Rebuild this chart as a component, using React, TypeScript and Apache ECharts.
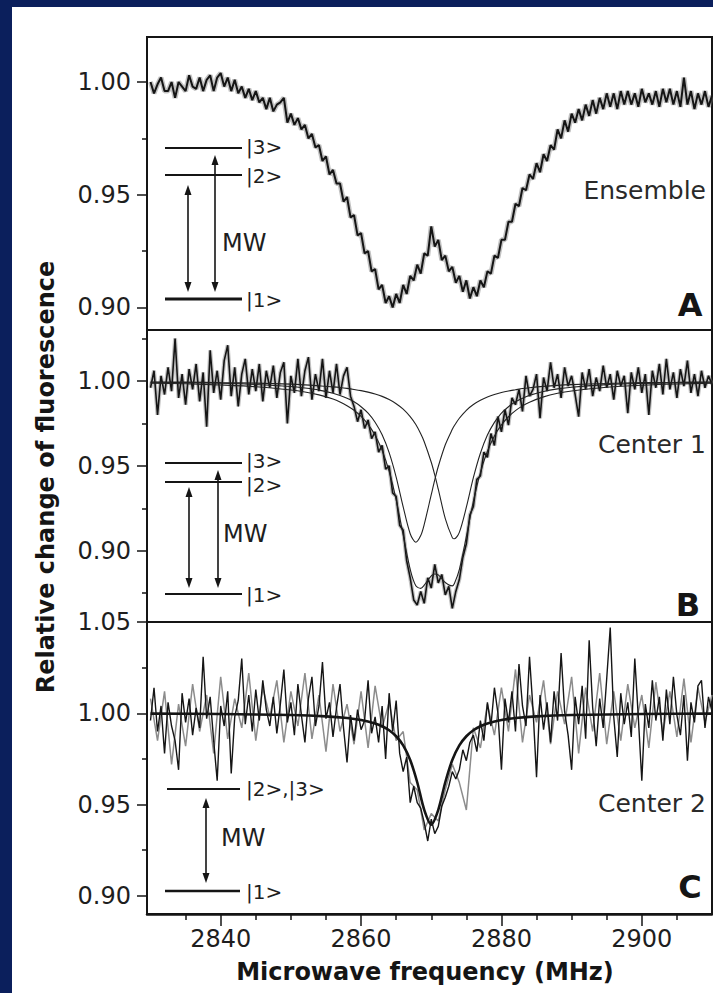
import React, { useEffect, useRef } from "react";
import * as echarts from "echarts";

// ---------------- data ----------------
const FREQ_START = 2830; // MHz, first sample
const FREQ_STEP = 0.5; // MHz between samples
const FREQ_MIN = 2829.5;
const FREQ_MAX = 2910;

// Panel A – ensemble spectrum (relative fluorescence)
const ensembleA = [
  1.000, .995, .999, 1.002, .996, .996, 1.000, .993, 1.000, .998,
  .996, 1.003, .998, .997, 1.002, .996, 1.001, 1.003, .996, 1.002,
  1.004, .998, 1.002, .996, 1.001, .995, .998, .993, .997, .992,
  .996, .991, .993, .988, .993, .987, .990, .991, .993, .982,
  .986, .981, .984, .979, .981, .975, .977, .971, .972, .965,
  .967, .959, .961, .955, .955, .947, .949, .940, .941, .932,
  .933, .924, .925, .916, .917, .908, .910, .902, .905, .900,
  .906, .902, .910, .906, .914, .912, .919, .915, .924, .923,
  .936, .927, .930, .921, .923, .916, .918, .911, .914, .907,
  .912, .904, .909, .905, .912, .909, .916, .915, .923, .922,
  .930, .930, .938, .938, .946, .945, .953, .952, .959, .957,
  .964, .960, .968, .965, .972, .970, .979, .975, .983, .978,
  .986, .982, .988, .983, .990, .985, .992, .986, .993, .988,
  .995, .989, .995, .988, .996, .990, .996, .990, .995, .989,
  .997, .991, .995, .990, .996, .989, .997, .991, .997, .990,
  .996, .989, 1.002, .990, .996, .988, .995, .990, .996, .989,
  .994,
];

// Panel B – single centre 1
const center1B = [
  .996, 1.006, .980, 1.003, .992, 1.008, .994, 1.025, .990, 1.004,
  .986, 1.007, .995, 1.010, .988, 1.005, .973, 1.018, .993, 1.006,
  .989, 1.012, 1.021, .991, 1.008, .985, 1.004, 1.013, .992, 1.007,
  .994, 1.010, .988, 1.006, .996, 1.009, .990, 1.005, 1.011, .975,
  1.003, .993, 1.013, .991, 1.006, 1.014, .989, 1.004, .994, 1.013,
  .990, 1.006, .993, 1.010, .992, 1.003, 1.008, .991, .985, .976,
  .983, .972, .977, .966, .970, .958, .962, .948, .950, .934,
  .932, .915, .912, .894, .884, .871, .868, .876, .869, .884,
  .878, .892, .881, .886, .874, .879, .866, .876, .883, .896,
  .904, .921, .926, .942, .944, .958, .955, .969, .962, .979,
  .970, .983, .974, .990, .986, .995, .982, 1.003, .991, .995,
  1.004, .978, 1.002, .994, 1.011, .996, 1.004, .990, 1.008, .997,
  1.003, .992, .979, 1.005, .995, 1.007, .991, 1.002, .994, 1.009,
  .996, 1.004, .989, 1.006, .997, 1.003, .981, 1.005, .995, 1.008,
  .993, 1.004, .980, 1.006, .996, 1.010, .992, 1.013, .995, 1.005,
  .990, 1.007, .997, 1.012, .993, 1.004, .991, 1.006, .996, 1.003,
  .998,
];

// Panel B – fitted lines
const fitFreqB = [
  2830, 2835, 2840, 2845, 2850, 2852, 2854, 2856, 2857, 2858,
  2859, 2860, 2861, 2862, 2863, 2864, 2865, 2866, 2867, 2867.8,
  2868.5, 2869, 2870, 2870.5, 2871, 2872, 2873, 2873.3, 2874, 2875,
  2876, 2877, 2878, 2879, 2880, 2881, 2882, 2883, 2884, 2886,
  2888, 2890, 2895, 2900, 2905, 2910,
];
const fitB1 = [
  .9992, .9990, .9986, .9979, .9967, .9958, .9946, .9927, .9914, .9898,
  .9877, .9848, .9810, .9757, .9683, .9578, .9434, .9258, .9100, .9050,
  .9089, .9155, .9330, .9417, .9496, .9624, .9715, .9737, .9780, .9827,
  .9861, .9886, .9905, .9920, .9932, .9941, .9948, .9955, .9960, .9968,
  .9974, .9978, .9985, .9990, .9992, .9994,
];
const fitB2 = [
  .9994, .9993, .9990, .9987, .9981, .9977, .9972, .9965, .9961, .9956,
  .9950, .9943, .9934, .9923, .9909, .9890, .9866, .9834, .9790, .9743,
  .9689, .9642, .9521, .9446, .9362, .9189, .9077, .9070, .9108, .9256,
  .9430, .9574, .9681, .9756, .9810, .9848, .9877, .9898, .9915, .9938,
  .9953, .9963, .9978, .9985, .9989, .9992,
];
const fitBSum = [
  .9987, .9983, .9976, .9966, .9947, .9935, .9918, .9893, .9876, .9854,
  .9827, .9791, .9744, .9680, .9591, .9468, .9300, .9092, .8890, .8793,
  .8778, .8797, .8852, .8863, .8858, .8813, .8793, .8807, .8888, .9083,
  .9290, .9460, .9586, .9676, .9741, .9789, .9825, .9853, .9875, .9906,
  .9927, .9941, .9963, .9975, .9982, .9986,
];

// Panel C – single centre 2 (black trace, 0.5 MHz steps)
const center2C = [
  .996, 1.014, .990, 1.004, .978, 1.006, .993, .985, .969, 1.011,
  .995, 1.008, .988, 1.003, .992, 1.031, .997, 1.009, .985, .963,
  1.004, .993, 1.012, .967, .998, 1.007, 1.030, .994, 1.010, .990,
  1.013, .996, 1.018, 1.002, .993, 1.009, .989, 1.005, 1.024, .995,
  1.006, .988, 1.016, .999, .984, 1.008, 1.020, .993, 1.004, 1.028,
  .997, 1.006, .987, 1.003, 1.016, .992, .973, .999, .985, 1.002,
  .991, .996, 1.018, .989, .998, .984, 1.004, .975, 1.011, .990,
  1.007, .978, .968, .976, .951, .960, .951, .948, .940, .930,
  .942, .934, .938, .949, .954, .960, .968, .964, .969, .980,
  .974, .984, .988, .979, .996, .985, 1.006, .993, 1.014, 1.000,
  .969, 1.008, .995, 1.012, .990, 1.027, 1.004, .993, 1.031, 1.002,
  .965, 1.010, .991, 1.006, .984, 1.012, .996, 1.033, 1.001, .988,
  .969, 1.009, .994, 1.015, .986, 1.040, 1.003, .982, 1.008, .992,
  1.019, 1.047, .998, .976, 1.011, .994, 1.006, .987, 1.030, .998,
  .963, 1.005, .992, 1.018, .996, 1.009, .985, 1.013, .994, 1.020,
  .999, .988, 1.010, .974, 1.006, .995, 1.015, 1.018, .992, 1.009,
  1.001,
];
// Panel C – second (grey) trace, 1 MHz steps
const GREY_STEP = 1;
const center2CGrey = [
  1.008, .985, 1.012, .972, 1.005, .982, 1.016, .990, 1.010, .978,
  1.020, .986, 1.008, .992, 1.022, .985, 1.014, .998, 1.018, .984,
  1.012, .993, 1.022, .986, 1.010, .979, 1.016, .990, 1.005, .983,
  1.012, .981, 1.015, .992, 1.006, .985, .990, .962, .958, .936,
  .945, .941, .958, .972, .962, .947, .992, .981, 1.005, .988,
  1.014, .990, 1.024, .984, 1.010, .995, 1.018, .983, 1.012, .994,
  1.020, .978, 1.014, .990, 1.022, .983, 1.012, .985, 1.016, .992,
  1.010, .981, 1.017, .989, 1.012, .987, 1.019, .984, 1.014, .995,
  1.010,
];
// Panel C – fitted line
const fitFreqC = [
  2830, 2840, 2850, 2855, 2858, 2860, 2862, 2863, 2864, 2865,
  2866, 2867, 2868, 2869, 2870, 2871, 2872, 2873, 2874, 2875,
  2876, 2877, 2878, 2880, 2882, 2885, 2890, 2900, 2910,
];
const fitC = [
  .9998, .9996, .9990, .9983, .9974, .9963, .9944, .9929, .9907, .9874,
  .9824, .9744, .9622, .9471, .9390, .9471, .9622, .9744, .9824, .9874,
  .9907, .9929, .9944, .9963, .9974, .9983, .9990, .9996, .9998,
];

// ticks
const xTickLabels = [2840, 2860, 2880, 2900];
const xMinorTicks = [2835, 2845, 2850, 2855, 2865, 2870, 2875, 2885, 2890, 2895, 2905];
const yLabelsA = [0.9, 0.95, 1.0];
const yMinorA = [0.925, 0.975];
const yLabelsB = [0.9, 0.95, 1.0];
const yMinorB = [0.875, 0.925, 0.975, 1.025];
const yLabelsC = [0.9, 0.95, 1.0, 1.05];
const yMinorC = [0.925, 0.975, 1.025];

// ---------------- helpers ----------------
const FONT = '"DejaVu Sans", sans-serif';
const INK = "#151515";
const HALO = "rgba(120,120,120,0.45)";

const stepPairs = (start: number, step: number, vals: number[]) =>
  vals.map((v, i) => [start + step * i, v]);
const zipPairs = (xs: number[], ys: number[]) => xs.map((x, i) => [x, ys[i]]);

function yAxesFor(gridIndex: number, min: number, max: number, labels: number[], minors: number[]) {
  return [
    {
      type: "value",
      gridIndex,
      position: "left",
      min,
      max,
      axisLine: { show: true, lineStyle: { color: INK, width: 2 } },
      splitLine: { show: false },
      axisTick: { show: true, length: 10, customValues: labels, lineStyle: { color: INK, width: 1.5 } },
      axisLabel: {
        show: true,
        customValues: labels,
        formatter: (v: number) => v.toFixed(2),
        margin: 16,
        fontFamily: FONT,
        fontSize: 24,
        color: "#1e1e1e",
      },
    },
    {
      type: "value",
      gridIndex,
      position: "left",
      min,
      max,
      axisLine: { show: false },
      splitLine: { show: false },
      axisTick: { show: true, length: 5, customValues: minors, lineStyle: { color: INK, width: 1.5 } },
      axisLabel: { show: false },
    },
  ];
}

function hiddenX(gridIndex: number) {
  return {
    type: "value",
    gridIndex,
    min: FREQ_MIN,
    max: FREQ_MAX,
    axisLine: { show: false },
    axisTick: { show: false },
    axisLabel: { show: false },
    splitLine: { show: false },
  };
}

function hLine(x1: number, x2: number, y: number, w = 2) {
  return { type: "line", shape: { x1, y1: y, x2, y2: y }, style: { stroke: INK, lineWidth: w } };
}
function dArrow(x: number, y1: number, y2: number) {
  return [
    { type: "line", shape: { x1: x, y1: y1 + 6, x2: x, y2: y2 - 6 }, style: { stroke: INK, lineWidth: 1.6 } },
    { type: "polygon", shape: { points: [[x, y1], [x - 3.5, y1 + 10], [x + 3.5, y1 + 10]] }, style: { fill: INK } },
    { type: "polygon", shape: { points: [[x, y2], [x - 3.5, y2 - 10], [x + 3.5, y2 - 10]] }, style: { fill: INK } },
  ];
}
function txt(text: string, x: number, y: number, font: string, align = "left", fill = "#1e1e1e", extra: any = {}) {
  return {
    type: "text",
    x,
    y,
    ...extra,
    style: { text, font, fill, align, verticalAlign: "middle", textAlign: align, textVerticalAlign: "middle" },
  };
}

export default function App() {
  const ref = useRef<HTMLDivElement>(null);

  useEffect(() => {
    if (!ref.current) return;
    const chart = echarts.init(ref.current, undefined, { renderer: "svg" });

    const ketFont = `20px ${FONT}`;
    const mwFont = `24px ${FONT}`;
    const nameFont = `25px ${FONT}`;
    const panelFont = `bold 32px ${FONT}`;
    const titleFont = `bold 24px ${FONT}`;

    const graphics: any[] = [
      // panel A level scheme
      hLine(165, 242, 148), hLine(165, 242, 175), hLine(165, 242, 299, 3),
      txt("|3>", 246, 147, ketFont), txt("|2>", 246, 176, ketFont), txt("|1>", 246, 300, ketFont),
      ...dArrow(188, 185, 292), ...dArrow(215, 155, 292),
      txt("MW", 222, 243, mwFont),
      // panel B level scheme
      hLine(165, 242, 463), hLine(165, 242, 482), hLine(165, 242, 594),
      txt("|3>", 246, 461, ketFont), txt("|2>", 246, 485, ketFont), txt("|1>", 246, 595, ketFont),
      ...dArrow(189, 487, 588), ...dArrow(218, 470, 588),
      txt("MW", 223, 534, mwFont),
      // panel C level scheme
      hLine(167, 240, 789), hLine(165, 240, 891, 2.5),
      txt("|2>,|3>", 246, 789, ketFont), txt("|1>", 246, 892, ketFont),
      ...dArrow(206, 798, 883),
      txt("MW", 221, 838, mwFont),
      // panel names
      txt("Ensemble", 706, 190, nameFont, "right", "#2a2a2a"),
      txt("Center 1", 706, 444, nameFont, "right", "#2a2a2a"),
      txt("Center 2", 706, 803, nameFont, "right", "#2a2a2a"),
      txt("A", 690, 305, panelFont, "center", INK),
      txt("B", 688, 605, panelFont, "center", INK),
      txt("C", 690, 887, panelFont, "center", INK),
      // axis titles
      txt("Microwave frequency (MHz)", 425, 972, titleFont, "center", INK),
      txt("Relative change of fluorescence", 46, 477, titleFont, "center", INK, { rotation: Math.PI / 2 }),
    ];

    const gridBase = { left: 147, width: 565, show: true, borderColor: INK, borderWidth: 2, backgroundColor: "transparent" };

    const option: any = {
      animation: false,
      backgroundColor: "#ffffff",
      grid: [
        { ...gridBase, top: 37, height: 293 },
        { ...gridBase, top: 330, height: 292 },
        { ...gridBase, top: 622, height: 292 },
      ],
      xAxis: [
        hiddenX(0),
        hiddenX(1),
        {
          type: "value",
          gridIndex: 2,
          position: "bottom",
          min: FREQ_MIN,
          max: FREQ_MAX,
          axisLine: { show: true, lineStyle: { color: INK, width: 2.5 } },
          splitLine: { show: false },
          axisTick: { show: true, length: 12, customValues: xTickLabels, lineStyle: { color: INK, width: 1.5 } },
          axisLabel: {
            show: true,
            customValues: xTickLabels,
            formatter: (v: number) => String(v),
            margin: 13,
            fontFamily: FONT,
            fontSize: 24,
            color: "#1e1e1e",
          },
        },
        {
          type: "value",
          gridIndex: 2,
          position: "bottom",
          min: FREQ_MIN,
          max: FREQ_MAX,
          axisLine: { show: false },
          splitLine: { show: false },
          axisTick: { show: true, length: 6, customValues: xMinorTicks, lineStyle: { color: INK, width: 1.5 } },
          axisLabel: { show: false },
        },
      ],
      yAxis: [
        ...yAxesFor(0, 0.89, 1.02, yLabelsA, yMinorA),
        ...yAxesFor(1, 0.858, 1.03, yLabelsB, yMinorB),
        ...yAxesFor(2, 0.89, 1.05, yLabelsC, yMinorC),
      ],
      series: [
        // Panel A: grey halo + black trace
        {
          type: "line", xAxisIndex: 0, yAxisIndex: 0, symbol: "none", silent: true,
          data: stepPairs(FREQ_START, FREQ_STEP, ensembleA),
          lineStyle: { color: HALO, width: 5 },
        },
        {
          type: "line", xAxisIndex: 0, yAxisIndex: 0, symbol: "none",
          data: stepPairs(FREQ_START, FREQ_STEP, ensembleA),
          lineStyle: { color: INK, width: 2 },
        },
        // Panel B
        {
          type: "line", xAxisIndex: 1, yAxisIndex: 2, symbol: "none", silent: true,
          data: stepPairs(FREQ_START, FREQ_STEP, center1B),
          lineStyle: { color: HALO, width: 4 },
        },
        {
          type: "line", xAxisIndex: 1, yAxisIndex: 2, symbol: "none",
          data: stepPairs(FREQ_START, FREQ_STEP, center1B),
          lineStyle: { color: INK, width: 1.6 },
        },
        {
          type: "line", xAxisIndex: 1, yAxisIndex: 2, symbol: "none", smooth: 0.3,
          data: zipPairs(fitFreqB, fitB1),
          lineStyle: { color: "#222", width: 1.1 },
        },
        {
          type: "line", xAxisIndex: 1, yAxisIndex: 2, symbol: "none", smooth: 0.3,
          data: zipPairs(fitFreqB, fitB2),
          lineStyle: { color: "#222", width: 1.1 },
        },
        {
          type: "line", xAxisIndex: 1, yAxisIndex: 2, symbol: "none", smooth: 0.3,
          data: zipPairs(fitFreqB, fitBSum),
          lineStyle: { color: "#222", width: 1.1 },
        },
        // Panel C
        {
          type: "line", xAxisIndex: 2, yAxisIndex: 4, symbol: "none",
          data: stepPairs(FREQ_START, GREY_STEP, center2CGrey),
          lineStyle: { color: "#8c8c8c", width: 1.5 },
        },
        {
          type: "line", xAxisIndex: 2, yAxisIndex: 4, symbol: "none",
          data: stepPairs(FREQ_START, FREQ_STEP, center2C),
          lineStyle: { color: INK, width: 1.4 },
        },
        {
          type: "line", xAxisIndex: 2, yAxisIndex: 4, symbol: "none", smooth: 0.3,
          data: zipPairs(fitFreqC, fitC),
          lineStyle: { color: INK, width: 2.6 },
        },
      ],
      graphic: { elements: graphics },
    };

    chart.setOption(option);
    return () => chart.dispose();
  }, []);

  const blue = "#0b1f5c";
  return (
    <div style={{ position: "absolute", left: 0, top: 0, width: 713, height: 993, overflow: "hidden" }}>
      <div ref={ref} style={{ position: "absolute", left: 0, top: 0, width: 713, height: 993 }} />
      <div style={{ position: "absolute", left: 0, top: 0, width: 12, height: 993, background: blue }} />
      <div style={{ position: "absolute", left: 0, top: 0, width: 713, height: 7, background: blue }} />
    </div>
  );
}
